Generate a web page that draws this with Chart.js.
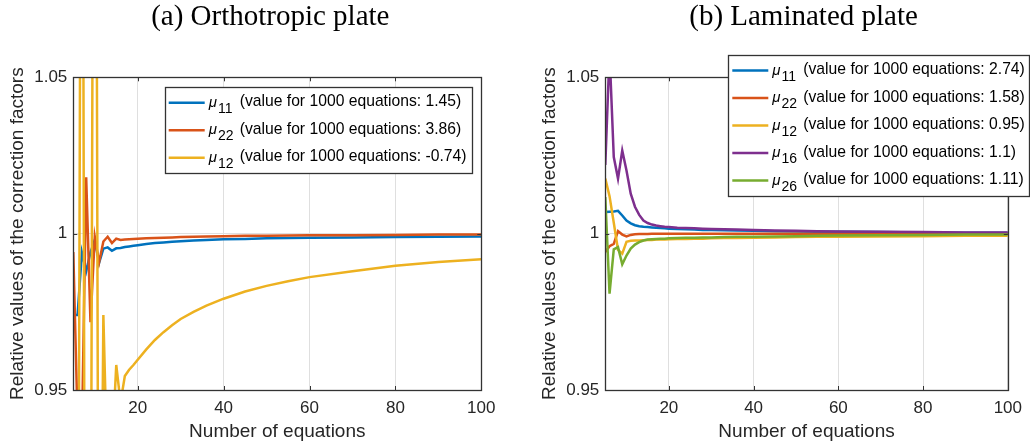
<!DOCTYPE html>
<html>
<head>
<meta charset="utf-8">
<title>Correction factors vs number of equations</title>
<script src="https://cdn.jsdelivr.net/npm/chart.js@4.4.1/dist/chart.umd.min.js"></script>
<style>
  body { margin: 0; background: #fff; width: 1030px; height: 448px; overflow: hidden; position: relative; }
  .panel { position: absolute; top: 0; height: 448px; }
  #leftPanel { left: 0; width: 515px; }
  #rightPanel { left: 532px; width: 498px; }
</style>
</head>
<body>
<div class="panel" id="leftPanel"><canvas id="orthoChart"></canvas></div>
<div class="panel" id="rightPanel"><canvas id="lamChart"></canvas></div>
<script>
// number of equations where the factors were sampled
const nEq = [5, 6, 7, 8, 9, 10, 11, 12, 13, 14, 15, 16, 17, 18, 19, 20,
  22, 24, 26, 28, 30, 33, 36, 40, 45, 50, 55, 60, 70, 80, 90, 100];

const xTicks = [20, 40, 60, 80, 100];
const yTicks = [0.95, 1, 1.05];

// (a) orthotropic plate
const orthoMu11 = [0.974, 0.974, 0.994, 0.988, 0.994, 0.998, 0.9906, 0.9952, 0.9956, 0.9945, 0.9953, 0.9954, 0.9957, 0.9959, 0.9961, 0.9963,
  0.9967, 0.997, 0.9972, 0.9974, 0.9976, 0.9978, 0.998, 0.9982, 0.9983, 0.9985, 0.9986, 0.9987, 0.9988, 0.9989, 0.999, 0.9991];
const orthoMu22 = [0.9941, 0.94, 0.935, 1.018, 0.9717, 0.999, 0.9908, 0.9975, 0.999, 0.997, 0.9984, 0.998, 0.9981, 0.9982, 0.9983, 0.9984,
  0.9985, 0.9986, 0.9987, 0.9988, 0.9989, 0.999, 0.9991, 0.9992, 0.9993, 0.9993, 0.9994, 0.9995, 0.9995, 0.9996, 0.9997, 0.9997];
const orthoMu12 = [0.90, 0.80, 1.25, 0.70, 0.85, 1.30, 0.80, 0.974, 0.92, 0.93, 0.958, 0.946, 0.9545, 0.9565, 0.958, 0.9597,
  0.963, 0.966, 0.9685, 0.9707, 0.9727, 0.975, 0.977, 0.9792, 0.9815, 0.9833, 0.9848, 0.9861, 0.988, 0.9897, 0.9909, 0.9918];
const orthoSubs = ['11', '22', '12'];
const orthoAt1000 = [1.45, 3.86, -0.74];

// (b) laminated plate
const lamMu11 = [1.0069, 1.007, 1.0071, 1.0073, 1.0058, 1.0042, 1.0033, 1.0027, 1.0024, 1.0022, 1.0021, 1.002, 1.0019, 1.0018, 1.0017, 1.0016,
  1.0015, 1.0014, 1.0013, 1.0012, 1.0012, 1.0011, 1.001, 1.0009, 1.0008, 1.0007, 1.0006, 1.0006, 1.0005, 1.0004, 1.0003, 1.0003];
const lamMu22 = [0.9941, 0.996, 0.9967, 1.0008, 0.9997, 0.9991, 0.9996, 0.9998, 0.9999, 0.9999, 0.9999, 1.0, 1.0, 1.0, 1.0, 1.0,
  1.0, 1.0, 1.0, 1.0, 1.0, 1.0, 1.0, 1.0, 1.0, 1.0, 1.0, 1.0, 1.0, 1.0, 1.0, 1.0];
const lamMu12 = [1.0176, 1.012, 1.0035, 0.9948, 0.9936, 0.9974, 0.9977, 0.9978, 0.9978, 0.9979, 0.998, 0.998, 0.9981, 0.9981, 0.9981, 0.9982,
  0.9983, 0.9983, 0.9984, 0.9984, 0.9985, 0.9986, 0.9986, 0.9987, 0.9988, 0.9989, 0.999, 0.999, 0.9991, 0.9992, 0.9993, 0.9993];
const lamMu16 = [1.022, 1.058, 1.0245, 1.0176, 1.0266, 1.0202, 1.0128, 1.0086, 1.006, 1.0042, 1.0034, 1.0029, 1.0026, 1.0024, 1.0022, 1.0021,
  1.0019, 1.0018, 1.0017, 1.0016, 1.0015, 1.0014, 1.0013, 1.0012, 1.001, 1.0009, 1.0008, 1.0007, 1.0006, 1.0005, 1.0004, 1.0004];
const lamMu26 = [1.0117, 0.9808, 0.995, 0.9957, 0.9902, 0.993, 0.9952, 0.9965, 0.9973, 0.9978, 0.9981, 0.9982, 0.9983, 0.9984, 0.9984, 0.9985,
  0.9986, 0.9987, 0.9987, 0.9988, 0.9988, 0.9989, 0.999, 0.999, 0.9991, 0.9992, 0.9993, 0.9994, 0.9995, 0.9996, 0.9997, 0.9997];
const lamSubs = ['11', '22', '12', '16', '26'];
const lamAt1000 = [2.74, 1.58, 0.95, 1.1, 1.11];

const colors = ['#0072BD', '#D95319', '#EDB120', '#7E2F8E', '#77AC30'];

Chart.defaults.font.family = '"Liberation Sans", Arial, sans-serif';
Chart.defaults.color = '#262626';

function makeDatasets(series, subs, finals) {
  return series.map((vals, i) => ({
    label: 'μ' + subs[i] + ' (value for 1000 equations: ' + finals[i] + ')',
    sub: subs[i],
    note: '(value for 1000 equations: ' + finals[i] + ')',
    data: vals.map((v, k) => ({ x: nEq[k], y: v })),
    borderColor: colors[i],
    borderWidth: 2.5,
    pointRadius: 0,
    tension: 0,
    fill: false,
    order: -i   // later series are painted over earlier ones
  }));
}

// axes box with inward tick marks
const framePlugin = {
  id: 'frame',
  afterDatasetsDraw(chart) {
    const { ctx, chartArea: a, scales: { x, y } } = chart;
    ctx.save();
    ctx.strokeStyle = '#333333';
    ctx.lineWidth = 1.3;
    ctx.strokeRect(Math.round(a.left) + 0.5, Math.round(a.top) + 0.5, Math.round(a.width), Math.round(a.height));
    ctx.lineWidth = 1;
    ctx.beginPath();
    x.ticks.forEach(t => {
      const px = Math.round(x.getPixelForValue(t.value)) + 0.5;
      ctx.moveTo(px, a.bottom); ctx.lineTo(px, a.bottom - 4);
      ctx.moveTo(px, a.top); ctx.lineTo(px, a.top + 4);
    });
    y.ticks.forEach(t => {
      const py = Math.round(y.getPixelForValue(t.value)) + 0.5;
      ctx.moveTo(a.left, py); ctx.lineTo(a.left + 4, py);
      ctx.moveTo(a.right, py); ctx.lineTo(a.right - 4, py);
    });
    ctx.stroke();
    ctx.restore();
  }
};

// legend with a subscripted mu for every series
const legendPlugin = {
  id: 'muLegend',
  afterDraw(chart, args, opts) {
    const { ctx } = chart;
    const ds = chart.data.datasets;
    const rowGap = 27.5;
    const h = 31 + rowGap * (ds.length - 1);
    ctx.save();
    ctx.fillStyle = '#fff';
    ctx.fillRect(opts.left, opts.top, opts.width, h);
    ctx.strokeStyle = '#333333';
    ctx.lineWidth = 1.3;
    ctx.strokeRect(Math.round(opts.left) + 0.5, Math.round(opts.top) + 0.5, Math.round(opts.width), Math.round(h));
    ds.forEach((d, i) => {
      const cy = opts.top + 15.5 + i * rowGap;
      ctx.strokeStyle = d.borderColor;
      ctx.lineWidth = 2.5;
      ctx.beginPath();
      ctx.moveTo(opts.left + 4, cy);
      ctx.lineTo(opts.left + 40, cy);
      ctx.stroke();
      ctx.fillStyle = '#000';
      ctx.textBaseline = 'alphabetic';
      ctx.textAlign = 'left';
      ctx.font = 'italic 15px "Liberation Sans", Arial, sans-serif';
      ctx.fillText('μ', opts.left + 44, cy + 4);
      const mw = ctx.measureText('μ').width;
      ctx.font = '14px "Liberation Sans", Arial, sans-serif';
      ctx.fillText(d.sub, opts.left + 44 + mw + 1, cy + 10);
      ctx.font = '15.7px "Liberation Sans", Arial, sans-serif';
      ctx.fillText(d.note, opts.left + 75, cy + 3.5);
    });
    ctx.restore();
  }
};

const panelTitlePlugin = {
  id: 'panelTitle',
  afterDraw(chart, args, opts) {
    const { ctx, chartArea: a } = chart;
    ctx.save();
    ctx.fillStyle = '#000';
    ctx.font = '29px "Liberation Serif", "Times New Roman", serif';
    ctx.textAlign = 'center';
    ctx.textBaseline = 'alphabetic';
    ctx.fillText(opts.text, (a.left + a.right) / 2 + opts.shift, 25);
    ctx.restore();
  }
};

function makeOptions(padRight, title, shift, legendBox) {
  return {
    responsive: true,
    maintainAspectRatio: false,
    animation: false,
    devicePixelRatio: 1,
    layout: { padding: { top: 77.3, right: padRight, left: 0, bottom: 0 } },
    plugins: {
      legend: { display: false },
      tooltip: { enabled: false },
      panelTitle: { text: title, shift: shift },
      muLegend: legendBox
    },
    scales: {
      x: {
        type: 'linear',
        min: 5,
        max: 100,
        afterBuildTicks: s => { s.ticks = xTicks.map(v => ({ value: v })); },
        afterFit: s => { s.height = 58; },
        ticks: { font: { size: 17 }, color: '#262626', padding: 8, maxRotation: 0, autoSkip: false },
        grid: { color: '#dfdfdf', drawTicks: false, lineWidth: 1 },
        border: { display: false },
        title: { display: true, text: 'Number of equations', font: { size: 19 }, color: '#262626', padding: { top: 0, bottom: 5 } }
      },
      y: {
        min: 0.95,
        max: 1.05,
        afterBuildTicks: s => { s.ticks = yTicks.map(v => ({ value: v })); },
        afterFit: s => { s.width = 73.3; },
        ticks: {
          font: { size: 17 }, color: '#262626', padding: 6,
          callback: v => (v === 1 ? '1' : v.toFixed(2))
        },
        grid: { color: '#dfdfdf', drawTicks: false, lineWidth: 1 },
        border: { display: false },
        title: { display: true, text: 'Relative values of the correction factors', font: { size: 19 }, color: '#262626', padding: { top: 6.6, bottom: 0 } }
      }
    }
  };
}

new Chart(document.getElementById('orthoChart'), {
  type: 'line',
  data: { datasets: makeDatasets([orthoMu11, orthoMu22, orthoMu12], orthoSubs, orthoAt1000) },
  options: makeOptions(33.7, '(a) Orthotropic plate', -7, { left: 164.7, top: 87.3, width: 307 }),
  plugins: [framePlugin, legendPlugin, panelTitlePlugin]
});

new Chart(document.getElementById('lamChart'), {
  type: 'line',
  data: { datasets: makeDatasets([lamMu11, lamMu22, lamMu12, lamMu16, lamMu26], lamSubs, lamAt1000) },
  options: makeOptions(16.7, '(b) Laminated plate', -3, { left: 196.3, top: 55, width: 300.7 }),
  plugins: [framePlugin, legendPlugin, panelTitlePlugin]
});
</script>
</body>
</html>
